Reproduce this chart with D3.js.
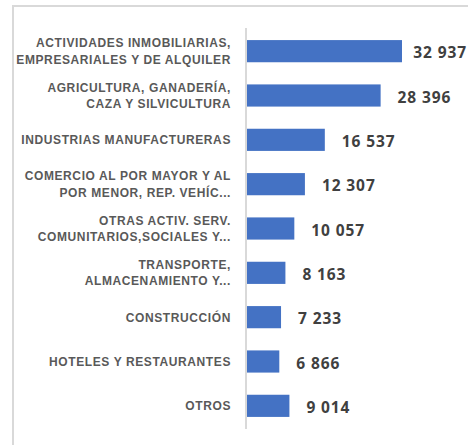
<html>
    <head>
        <meta charset="utf-8">
        <title>sectores</title>
        <script src="https://d3js.org/d3.v7.min.js"></script>
        <style>
            body { margin: 0; background: #fff; }
            svg { display: block; }
        </style>
    </head>
    <body>
        <div id="chart"></div>
        <script>
            // Données
            const categories = [
                "ACTIVIDADES INMOBILIARIAS,\nEMPRESARIALES Y DE ALQUILER",
                "AGRICULTURA, GANADERÍA,\nCAZA Y SILVICULTURA",
                "INDUSTRIAS MANUFACTURERAS",
                "COMERCIO AL POR MAYOR Y AL\nPOR MENOR, REP. VEHÍC...",
                "OTRAS ACTIV. SERV.\nCOMUNITARIOS,SOCIALES Y...",
                "TRANSPORTE,\nALMACENAMIENTO Y...",
                "CONSTRUCCIÓN",
                "HOTELES Y RESTAURANTES",
                "OTROS"
            ];
            const values = [32937, 28396, 16537, 12307, 10057, 8163, 7233, 6866, 9014];
            const xMax = 35000;

            const width = 468, height = 445;

            const svg = d3.select("#chart").append("svg")
                .attr("width", width)
                .attr("height", height);

            // cadre de la zone du graphique (coupé à droite et en bas)
            svg.append("path")
                .attr("d", "M13,446V6H470")
                .attr("fill", "none")
                .attr("stroke", "#d9d9d9")
                .attr("stroke-width", 2);

            const y = d3.scaleBand()
                .domain(d3.range(categories.length))
                .range([29, 428])
                .paddingInner(0.5)
                .paddingOuter(0.25);

            const x = d3.scaleLinear()
                .domain([0, xMax])
                .range([247, 411.7]);

            const fmt = d3.formatLocale({ decimal: ",", thousands: " ", grouping: [3], currency: ["", ""] }).format(",d");

            // barres
            svg.selectAll("rect.bar")
                .data(values)
                .enter().append("rect")
                .attr("class", "bar")
                .attr("x", x(0))
                .attr("y", (d, i) => y(i))
                .attr("width", d => x(d) - x(0))
                .attr("height", y.bandwidth())
                .attr("fill", "#4472c4");

            // axe vertical
            svg.append("line")
                .attr("x1", x(0) - 1).attr("x2", x(0) - 1)
                .attr("y1", 28).attr("y2", 429)
                .attr("stroke", "#d9d9d9")
                .attr("stroke-width", 2);

            // étiquettes des catégories
            const lh = 16.5;
            svg.selectAll("text.cat")
                .data(categories)
                .enter().append("text")
                .attr("class", "cat")
                .attr("text-anchor", "end")
                .attr("font-family", "Liberation Sans, Arial, sans-serif")
                .attr("font-weight", "bold")
                .attr("font-size", 12)
                .attr("letter-spacing", 0.6)
                .attr("fill", "#595959")
                .each(function(d, i) {
                    const lines = d.split("\n");
                    const cy = y(i) + y.bandwidth() / 2;
                    const t = d3.select(this);
                    lines.forEach((l, k) => {
                        t.append("tspan")
                            .attr("x", 231)
                            .attr("y", cy + 4.4 + (k - (lines.length - 1) / 2) * lh)
                            .text(l);
                    });
                });

            // valeurs
            svg.selectAll("text.val")
                .data(values)
                .enter().append("text")
                .attr("class", "val")
                .attr("font-family", "Open Sans, sans-serif")
                .attr("font-weight", "bold")
                .attr("font-size", 15.5)
                .attr("letter-spacing", 0.9)
                .attr("fill", "#404040")
                .attr("y", (d, i) => y(i) + y.bandwidth() / 2 + 7)
                .text(d => fmt(d))
                .attr("x", function(d) {
                    const w = this.getComputedTextLength();
                    return Math.min(x(d) + 17, width - w - 1);
                });
        </script>
    </body>
</html>
